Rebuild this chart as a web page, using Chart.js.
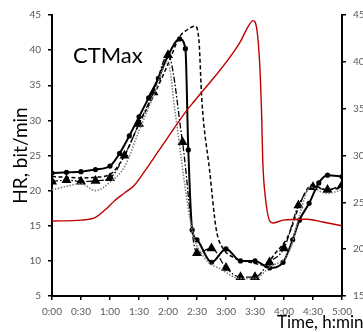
<!DOCTYPE html>
<html>
<head>
<meta charset="utf-8">
<script src="https://cdn.jsdelivr.net/npm/chart.js@4.4.1/dist/chart.umd.min.js"></script>
<style>
  html, body { margin: 0; padding: 0; background: #fff; overflow: hidden; }
  #wrap { width: 363px; height: 332px; overflow: hidden; }
  #box { width: 380px; height: 332px; }
</style>
</head>
<body>
<div id="wrap"><div id="box"><canvas id="chart"></canvas></div></div>
<script>
  // Time in minutes from start, HR in bit/min (left axis), temperature on right axis
  const solidT  = [0, 15, 30, 45, 60, 70, 80, 90, 100, 110, 120, 132, 138, 141, 145, 150, 165, 180, 195, 210, 225, 239, 249, 256, 266, 276, 285, 300];
  const solidHR = [22.5, 22.6, 22.7, 23.0, 23.5, 25.3, 27.8, 30.5, 33.2, 36.0, 39.2, 41.6, 40.2, 25.8, 14.4, 13.0, 9.8, 11.7, 10.0, 10.0, 9.0, 9.8, 13.0, 15.8, 18.2, 21.1, 22.2, 22.0];

  const dashT  = [0, 15, 30, 45, 60, 75, 90, 105, 120, 132, 140, 148, 152, 155, 163, 170, 176, 189, 205, 220, 231, 243, 248, 255, 269, 284, 300];
  const dashHR = [22.0, 21.9, 21.8, 21.9, 22.3, 25.0, 29.5, 33.5, 38.0, 41.9, 42.9, 43.4, 41.4, 32.9, 22.9, 14.4, 12.0, 10.4, 9.8, 9.4, 11.1, 13.2, 14.8, 17.6, 20.8, 20.1, 20.4];

  const triT  = [0, 15, 30, 45, 60, 75, 90, 105, 120, 135, 150, 165, 180, 195, 210, 225, 240, 255, 270, 285, 300];
  const triHR = [21.3, 21.5, 21.3, 21.4, 21.8, 25.0, 29.5, 34.0, 39.3, 26.9, 11.1, 11.8, 9.0, 7.7, 7.7, 9.8, 11.8, 17.9, 20.5, 20.1, 20.8];

  const dotT  = [0, 15, 30, 45, 60, 75, 90, 105, 120, 127, 145, 158, 175, 194, 210, 225, 246, 256, 267, 284, 300];
  const dotHR = [20.1, 20.6, 21.0, 20.0, 21.2, 23.4, 28.5, 33.5, 38.3, 31.5, 14.4, 10.4, 8.8, 7.5, 7.5, 9.1, 11.5, 16.5, 20.5, 19.6, 20.1];

  const tempT = [0, 30, 45, 55, 65, 75, 85, 95, 111, 140, 148, 194, 202, 208, 212, 215, 217, 218, 221, 226, 229, 239, 264, 280, 300];
  const temp  = [23.0, 23.1, 23.4, 24.2, 25.2, 26.0, 26.8, 28.2, 30.6, 34.9, 35.9, 42.0, 43.6, 44.4, 43.4, 39.5, 33.8, 29.5, 25.3, 22.9, 22.8, 23.1, 23.2, 22.9, 22.5];

  const hrTicks = { min: 5, max: 45, step: 5 };
  const tempTicks = { min: 15, max: 45, step: 5 };

  const pts = (t, v) => t.map((x, i) => ({ x: x, y: v[i] }));
  const hmm = v => Math.floor(v / 60) + ':' + String(v % 60).padStart(2, '0');

  const textPlugin = {
    id: 'extraText',
    afterDraw(chart) {
      const { ctx, chartArea } = chart;
      ctx.save();
      ctx.fillStyle = '#000';
      ctx.textBaseline = 'middle';
      ctx.font = '22px Lato';
      ctx.fillText('CTMax', chartArea.left + 21, chartArea.top + 41);
      ctx.textBaseline = 'alphabetic';
      ctx.font = '17px Lato';
      ctx.fillText('Time, h:min', chartArea.right - 65, chart.height - 4);
      ctx.restore();
    }
  };

  const axisGrid = { drawOnChartArea: false, drawTicks: true, tickLength: 4, color: '#000', lineWidth: 1.5 };
  const axisBorder = { color: '#000', width: 2 };
  const tickFont = { family: 'Lato', size: 10 };

  new Chart(document.getElementById('chart'), {
    type: 'line',
    data: {
      datasets: [
        {
          data: pts(tempT, temp), yAxisID: 'y2',
          borderColor: '#c00000', borderWidth: 1.4, pointRadius: 0,
          cubicInterpolationMode: 'monotone'
        },
        {
          data: pts(dotT, dotHR), yAxisID: 'y',
          borderColor: '#808080', borderWidth: 1.6, borderDash: [1.5, 1.5], pointRadius: 0,
          cubicInterpolationMode: 'monotone'
        },
        {
          data: pts(triT, triHR), yAxisID: 'y',
          borderColor: '#000', borderWidth: 1.3, borderDash: [6, 2, 1.5, 2],
          pointStyle: 'triangle', pointRadius: 4.5, pointBackgroundColor: '#000', pointBorderColor: '#000',
          cubicInterpolationMode: 'monotone'
        },
        {
          data: pts(dashT, dashHR), yAxisID: 'y',
          borderColor: '#000', borderWidth: 1.5, borderDash: [4, 2.5], pointRadius: 0,
          cubicInterpolationMode: 'monotone'
        },
        {
          data: pts(solidT, solidHR), yAxisID: 'y',
          borderColor: '#000', borderWidth: 2, pointRadius: 1.6,
          pointBackgroundColor: '#000', pointBorderColor: '#000',
          cubicInterpolationMode: 'monotone'
        }
      ]
    },
    options: {
      responsive: true,
      maintainAspectRatio: false,
      animation: false,
      layout: { padding: { top: 15, left: 0, right: 0, bottom: 0 } },
      plugins: { legend: { display: false }, tooltip: { enabled: false } },
      scales: {
        x: {
          type: 'linear', min: 0, max: 300,
          grid: axisGrid, border: axisBorder,
          ticks: { stepSize: 30, autoSkip: false, maxRotation: 0, padding: 6, color: '#595959', font: tickFont, callback: hmm },
          afterFit: s => { s.height = 36; }
        },
        y: {
          position: 'left', min: hrTicks.min, max: hrTicks.max,
          grid: axisGrid, border: axisBorder,
          ticks: { stepSize: hrTicks.step, padding: 7, color: '#595959', font: tickFont },
          title: { display: true, text: 'HR, bit/min', color: '#000', font: { family: 'Lato', size: 19 }, padding: { top: 9, bottom: 0 } },
          afterFit: s => { s.width = 52; }
        },
        y2: {
          position: 'right', min: tempTicks.min, max: tempTicks.max,
          grid: axisGrid, border: axisBorder,
          ticks: { stepSize: tempTicks.step, padding: 7, color: '#595959', font: tickFont },
          afterFit: s => { s.width = 38; }
        }
      }
    },
    plugins: [textPlugin]
  });
</script>
</body>
</html>
